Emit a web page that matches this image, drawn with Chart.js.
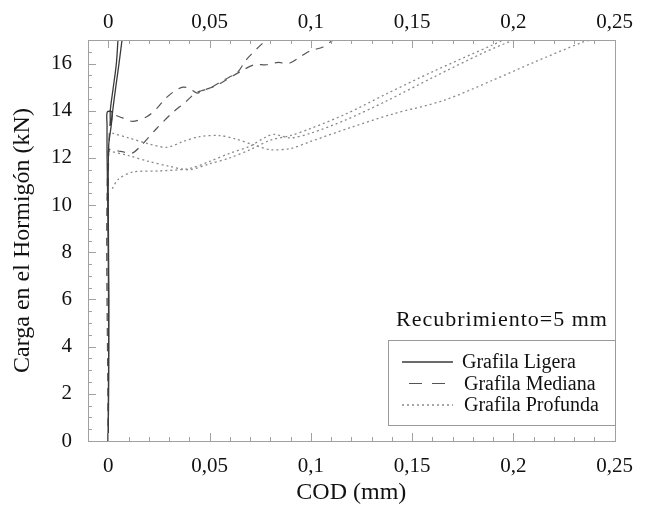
<!DOCTYPE html>
<html>
<head>
<meta charset="utf-8">
<script src="https://cdn.jsdelivr.net/npm/chart.js@4.4.0/dist/chart.umd.min.js"></script>
<style>
  body { margin: 0; background: #fff; }
  #wrap { width: 646px; height: 515px; }
</style>
</head>
<body>
<div id="wrap"><canvas id="codChart" width="646" height="515"></canvas></div>
<script>
// tick labels
const xTicks = [0, 0.05, 0.1, 0.15, 0.2, 0.25];
const yTicks = [0, 2, 4, 6, 8, 10, 12, 14, 16];

// COD (mm), Carga (kN)
const ligera1 = [[0,0],[0.0002,4],[0,8],[-0.0004,11],[-0.0006,12.2],[-0.0006,13.4],[-0.0005,13.95],[0.0018,13.95],[0.0012,13.4],[0.001,14],[0.0025,15],[0.004,16],[0.0048,17]];
const ligera2 = [[0,0],[0.0003,6],[0,10],[0.0002,12.5],[0.0015,13.4],[0.0022,14],[0.0037,15],[0.0053,16],[0.0068,17]];

const mediana1 = [[0,0],[0,10],[0.0005,13],[0.002,13.8],[0.007,13.7],[0.012,13.55],[0.019,13.75],[0.024,14.1],[0.028,14.5],[0.033,14.85],[0.037,15.0],[0.040,14.95],[0.044,14.75],[0.048,14.9],[0.053,15.05],[0.059,15.35],[0.066,15.7],[0.072,15.95],[0.078,15.95],[0.084,16.05],[0.089,16.0],[0.095,16.3],[0.1,16.55],[0.106,16.7],[0.111,17]];
const mediana2 = [[0,0],[0,12.3],[0.006,12.28],[0.0116,12.2],[0.0155,12.46],[0.024,13.26],[0.0315,13.9],[0.038,14.36],[0.043,14.75],[0.046,14.85],[0.05,14.95],[0.057,15.3],[0.064,15.65],[0.068,16.15],[0.073,16.6],[0.078,17]];

const profunda1 = [[0.002,13.05],[0.01,12.85],[0.02,12.6],[0.029,12.45],[0.037,12.7],[0.045,12.9],[0.055,12.95],[0.063,12.8],[0.072,12.55],[0.08,12.35],[0.09,12.4],[0.1,12.7],[0.12,13.3],[0.14,13.85],[0.166,14.45],[0.19,15.3],[0.21,16.05],[0.234,16.9],[0.238,17]];
const profunda2 = [[0,12.3],[0.01,12.1],[0.02,11.85],[0.03,11.65],[0.04,11.5],[0.05,11.75],[0.06,12.0],[0.07,12.35],[0.08,12.75],[0.09,12.95],[0.1,13.25],[0.117,13.85],[0.137,14.7],[0.16,15.65],[0.19,16.8],[0.195,17]];
const profunda3 = [[0.002,10.7],[0.005,11.1],[0.012,11.4],[0.025,11.45],[0.04,11.55],[0.05,11.85],[0.06,12.2],[0.07,12.5],[0.078,12.9],[0.082,13.0],[0.09,12.85],[0.1,13.05],[0.117,13.6],[0.137,14.4],[0.16,15.4],[0.185,16.45],[0.2,17]];

const seriesNames = ['Grafila Ligera', 'Grafila Mediana', 'Grafila Profunda'];
const coverNote = 'Recubrimiento=5 mm';

const styles = [
  { color: '#3a3a3a', width: 1.3, dash: [] },
  { color: '#555555', width: 1.2, dash: [8, 7] },
  { color: '#8a8a8a', width: 1.3, dash: [2, 3] }
];

const FONT = '"Liberation Serif", "Times New Roman", serif';

function toPts(arr) { return arr.map(p => ({ x: p[0], y: p[1] })); }
function line(data, s) {
  return {
    data: toPts(data), showLine: true, pointRadius: 0,
    borderColor: s.color, borderWidth: s.width, borderDash: s.dash,
    fill: false, tension: 0.3, xAxisID: 'x', yAxisID: 'y'
  };
}

const datasets = [
  line(ligera1, styles[0]), line(ligera2, styles[0]),
  line(mediana1, styles[1]), line(mediana2, styles[1]),
  line(profunda1, styles[2]), line(profunda2, styles[2]), line(profunda3, styles[2])
];

function commaLabel(v) { return String(v).replace('.', ','); }
function setTicks(list) { return scale => { scale.ticks = list.map(v => ({ value: v })); }; }

// frame + inward ticks
const frameTicks = {
  id: 'frameTicks',
  afterDraw(chart) {
    const { ctx, chartArea: a, scales } = chart;
    const x = scales.x, y = scales.y;
    ctx.save();
    ctx.strokeStyle = '#a0a0a0';
    ctx.lineWidth = 1;
    ctx.strokeRect(Math.round(a.left) + 0.5, Math.round(a.top) + 0.5, Math.round(a.right - a.left), Math.round(a.bottom - a.top));
    ctx.beginPath();
    for (let i = 0; i <= 25; i++) {
      const px = Math.round(x.getPixelForValue(i / 100)) + 0.5;
      const len = i % 5 === 0 ? 8 : 4;
      ctx.moveTo(px, a.bottom); ctx.lineTo(px, a.bottom - len);
      ctx.moveTo(px, a.top); ctx.lineTo(px, a.top + len);
    }
    for (let i = 0; i <= 34; i++) {
      const py = Math.round(y.getPixelForValue(i / 2)) + 0.5;
      const len = i % 4 === 0 ? 8 : 4;
      ctx.moveTo(a.left, py); ctx.lineTo(a.left + len, py);
    }
    ctx.stroke();
    ctx.restore();
  }
};

// note + legend box inside the plot
const boxLegend = {
  id: 'boxLegend',
  afterDraw(chart) {
    const ctx = chart.ctx;
    ctx.save();
    ctx.fillStyle = '#111';
    ctx.font = '22px ' + FONT;
    ctx.letterSpacing = '1px';
    ctx.textAlign = 'center';
    ctx.textBaseline = 'middle';
    ctx.fillText(coverNote, 502, 320);
    ctx.letterSpacing = '0px';

    ctx.strokeStyle = '#9a9a9a';
    ctx.lineWidth = 1;
    ctx.strokeRect(388.5, 340.5, 227, 85);

    ctx.font = '20px ' + FONT;
    ctx.textAlign = 'left';
    seriesNames.forEach((name, i) => {
      const yy = 362 + i * 21.5;
      const s = styles[i];
      ctx.beginPath();
      ctx.strokeStyle = s.color;
      ctx.lineWidth = s.width;
      ctx.setLineDash(i === 1 ? [13, 10] : s.dash);
      const x0 = i === 1 ? 409 : 402;
      ctx.moveTo(x0, yy); ctx.lineTo(453, yy);
      ctx.stroke();
      ctx.setLineDash([]);
      ctx.fillText(name, i === 0 ? 462 : 464, yy + 1);
    });
    ctx.restore();
  }
};

new Chart(document.getElementById('codChart').getContext('2d'), {
  type: 'scatter',
  data: { datasets },
  options: {
    responsive: false,
    animation: false,
    layout: { padding: { left: 0, right: 22, top: 0, bottom: 0 } },
    plugins: { legend: { display: false }, tooltip: { enabled: false } },
    scales: {
      x: {
        type: 'linear', position: 'bottom', min: -0.01, max: 0.25,
        afterBuildTicks: setTicks(xTicks),
        afterFit: s => { s.height = 74; },
        grid: { display: false, drawTicks: false },
        border: { display: false },
        ticks: { padding: 13, color: '#111', font: { family: FONT, size: 21 }, callback: commaLabel, maxRotation: 0 },
        title: { display: true, text: 'COD (mm)', color: '#111', font: { family: FONT, size: 24 }, padding: { top: 0, bottom: 8 } }
      },
      x2: {
        type: 'linear', position: 'top', min: -0.01, max: 0.25,
        afterBuildTicks: setTicks(xTicks),
        afterFit: s => { s.height = 40; },
        grid: { display: false, drawTicks: false },
        border: { display: false },
        ticks: { padding: 5, color: '#111', font: { family: FONT, size: 21 }, callback: commaLabel, maxRotation: 0 }
      },
      y: {
        type: 'linear', position: 'left', min: 0, max: 17,
        afterBuildTicks: setTicks(yTicks),
        afterFit: s => { s.width = 88; },
        grid: { display: false, drawTicks: false },
        border: { display: false },
        ticks: { padding: 16, color: '#111', font: { family: FONT, size: 21 } },
        title: { display: true, text: 'Carga en el Hormigón (kN)', color: '#111', font: { family: FONT, size: 24 }, padding: { top: 8, bottom: 0 } }
      }
    }
  },
  plugins: [frameTicks, boxLegend]
});
</script>
</body>
</html>
